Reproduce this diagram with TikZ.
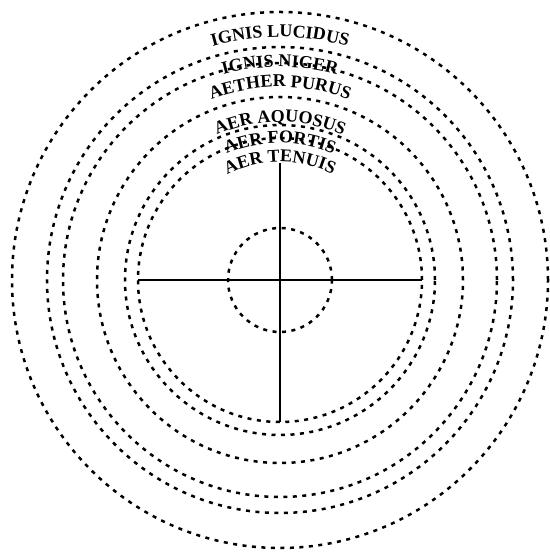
\documentclass[tikz,border=0pt]{standalone}
\usepackage{fontspec}
\setmainfont{Liberation Serif}
\usetikzlibrary{decorations.text}
\newcommand{\ringfont}{\fontsize{18}{18}\selectfont\bfseries}
\tikzset{
    ringline/.style={draw, line width=2.5pt, dash pattern=on 4pt off 5.5pt},
    crossline/.style={draw, line width=2.3pt},
    ringlabel/.style={decorate, decoration={text along path, text align=center, text={|\ringfont|#1}}}
}
\begin{document}
\begin{tikzpicture}
    \useasboundingbox (-280pt,-273pt) rectangle (269pt,280pt);
    \coordinate (centre) at (0,0);
    % rings
    \foreach \rad in {52,142,155,183,217,233,268}
        \draw[ringline] (centre) circle[radius=\rad pt];
    % cross
    \coordinate (west) at (-142pt,0);
    \coordinate (east) at (142pt,0);
    \coordinate (north) at (0,117pt);
    \coordinate (south) at (0,-142pt);
    \draw[crossline] (west) -- (east);
    \draw[crossline] (north) -- (south);
    % names of the rings
    \path[ringlabel={AER TENUIS}] (160:118pt) arc[start angle=160, end angle=20, radius=118pt];
    \path[ringlabel={AER FORTIS}] (160:137pt) arc[start angle=160, end angle=20, radius=137pt];
    \path[ringlabel={AER AQUOSUS}] (160:158pt) arc[start angle=160, end angle=20, radius=158pt];
    \path[ringlabel={AETHER PURUS}] (160:193pt) arc[start angle=160, end angle=20, radius=193pt];
    \path[ringlabel={IGNIS NIGER}] (160:213pt) arc[start angle=160, end angle=20, radius=213pt];
    \path[ringlabel={IGNIS LUCIDUS}] (160:243pt) arc[start angle=160, end angle=20, radius=243pt];
\end{tikzpicture}
\end{document}
